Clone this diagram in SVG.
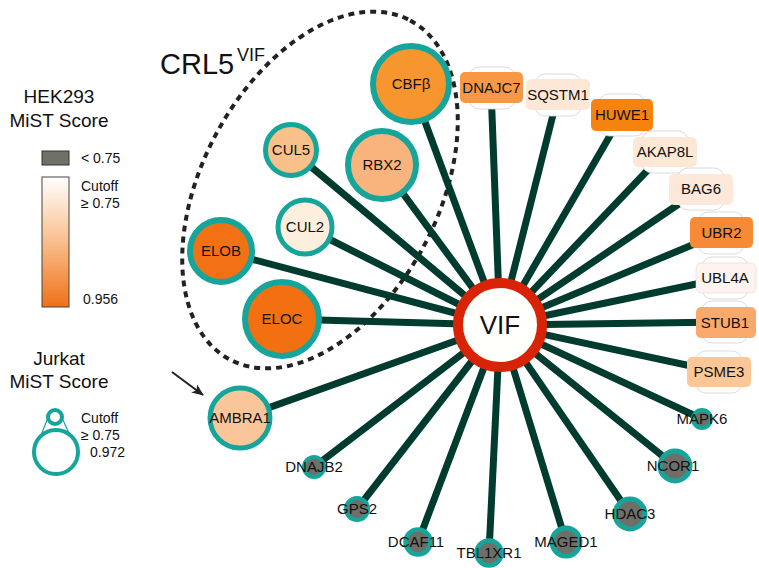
<svg xmlns="http://www.w3.org/2000/svg" width="759" height="568" viewBox="0 0 759 568">
<style>
text{font-family:"Liberation Sans",Arial,sans-serif;fill:#111}
.lbl{font-size:15px;text-anchor:middle}
.leg{font-size:14px}
.edge{stroke:#003B2F;stroke-width:7;fill:none}
.ring{stroke:#16A59B}
.gray{fill:#6F6F69;stroke:#16A59B}
.halo{fill:#fff;stroke:#d2d2d2;stroke-width:0.8}
</style>
<defs>
<linearGradient id="grad" x1="0" y1="0" x2="0" y2="1">
<stop offset="0" stop-color="#FFFFFF"/>
<stop offset="0.5" stop-color="#F9BE8C"/>
<stop offset="1" stop-color="#F07018"/>
</linearGradient>
<marker id="arr" viewBox="0 0 12 10" refX="11" refY="5" markerWidth="12" markerHeight="10" markerUnits="userSpaceOnUse" orient="auto">
<path d="M0,0 L12,5 L0,10 L3,5 Z" fill="#222"/>
</marker>
</defs>
<rect width="759" height="568" fill="#fff"/>

<g id="legend">
<text x="59" y="103" font-size="19" text-anchor="middle">HEK293</text>
<text x="59" y="127" font-size="19" text-anchor="middle">MiST Score</text>
<rect x="42" y="151" width="27" height="14" fill="#707068" stroke="#333" stroke-width="1"/>
<text x="81" y="163" class="leg">&lt; 0.75</text>
<rect x="42" y="177" width="27" height="130" fill="url(#grad)" stroke="#444" stroke-width="1"/>
<text x="81" y="191" class="leg">Cutoff</text>
<text x="81" y="208" class="leg">≥ 0.75</text>
<text x="83" y="304" class="leg">0.956</text>
<text x="59" y="365" font-size="19" text-anchor="middle">Jurkat</text>
<text x="59" y="388" font-size="19" text-anchor="middle">MiST Score</text>
<line x1="47.5" y1="419" x2="33" y2="455" stroke="#16A59B" stroke-width="1.2"/>
<line x1="62.5" y1="419" x2="79" y2="455" stroke="#16A59B" stroke-width="1.2"/>
<circle cx="55" cy="417" r="7" fill="#fff" stroke="#16A59B" stroke-width="4"/>
<circle cx="56" cy="452" r="22" fill="#fff" stroke="#16A59B" stroke-width="4"/>
<text x="81" y="423" class="leg">Cutoff</text>
<text x="81" y="440" class="leg">≥ 0.75</text>
<text x="90" y="457" class="leg">0.972</text>
</g>

<g id="crl5">
<ellipse cx="320" cy="190" rx="192" ry="118" transform="rotate(-62 320 190)" fill="none" stroke="#222" stroke-width="4" stroke-dasharray="6 5"/>
<text x="160" y="74" font-size="29">CRL5</text>
<text x="237" y="61" font-size="18">VIF</text>
</g>

<line id="arrow" x1="172" y1="372" x2="203" y2="395" stroke="#222" stroke-width="2" marker-end="url(#arr)"/>

<g id="edges">
<line class="edge" x1="500" y1="325" x2="411" y2="84"/>
<line class="edge" x1="500" y1="325" x2="382" y2="165"/>
<line class="edge" x1="500" y1="325" x2="291" y2="150"/>
<line class="edge" x1="500" y1="325" x2="305" y2="227"/>
<line class="edge" x1="500" y1="325" x2="221" y2="251"/>
<line class="edge" x1="500" y1="325" x2="282" y2="319"/>
<line class="edge" x1="500" y1="325" x2="240" y2="418"/>
<line class="edge" x1="500" y1="325" x2="314" y2="467"/>
<line class="edge" x1="500" y1="325" x2="357" y2="509"/>
<line class="edge" x1="500" y1="325" x2="418" y2="542"/>
<line class="edge" x1="500" y1="325" x2="489" y2="553"/>
<line class="edge" x1="500" y1="325" x2="566" y2="542"/>
<line class="edge" x1="500" y1="325" x2="630" y2="514"/>
<line class="edge" x1="500" y1="325" x2="675" y2="466"/>
<line class="edge" x1="500" y1="325" x2="702" y2="419"/>
<line class="edge" x1="500" y1="325" x2="719" y2="372"/>
<line class="edge" x1="500" y1="325" x2="725" y2="322"/>
<line class="edge" x1="500" y1="325" x2="725" y2="278"/>
<line class="edge" x1="500" y1="325" x2="721" y2="233"/>
<line class="edge" x1="500" y1="325" x2="701" y2="189"/>
<line class="edge" x1="500" y1="325" x2="665" y2="152"/>
<line class="edge" x1="500" y1="325" x2="622" y2="115"/>
<line class="edge" x1="500" y1="325" x2="558" y2="95"/>
<line class="edge" x1="500" y1="325" x2="491" y2="88"/>
</g>

<g id="n-CBFB"><circle cx="411" cy="84" r="38" fill="#F7952E" class="ring" stroke-width="6"/><text x="411" y="89" class="lbl">CBFβ</text></g>
<g id="n-RBX2"><circle cx="382" cy="165" r="34" fill="#F9B47D" class="ring" stroke-width="6"/><text x="382" y="170" class="lbl">RBX2</text></g>
<g id="n-CUL5"><circle cx="291" cy="150" r="25.5" fill="#FAC08A" class="ring" stroke-width="5"/><text x="291" y="155" class="lbl">CUL5</text></g>
<g id="n-CUL2"><circle cx="305" cy="227" r="27" fill="#FEEEDD" class="ring" stroke-width="5"/><text x="305" y="232" class="lbl">CUL2</text></g>
<g id="n-ELOB"><circle cx="221" cy="251" r="31" fill="#F37115" class="ring" stroke-width="6"/><text x="221" y="256" class="lbl">ELOB</text></g>
<g id="n-ELOC"><circle cx="282" cy="319" r="37" fill="#F37012" class="ring" stroke-width="6"/><text x="282" y="324" class="lbl">ELOC</text></g>
<g id="n-AMBRA1"><circle cx="240" cy="418" r="30" fill="#FBC59A" class="ring" stroke-width="5"/><text x="240" y="423" class="lbl">AMBRA1</text></g>

<g id="n-DNAJB2"><circle cx="314" cy="467" r="10" class="gray" stroke-width="4"/><text x="314" y="472" class="lbl">DNAJB2</text></g>
<g id="n-GPS2"><circle cx="357" cy="509" r="11" class="gray" stroke-width="4"/><text x="357" y="514" class="lbl">GPS2</text></g>
<g id="n-DCAF11"><circle cx="418" cy="542" r="12.5" class="gray" stroke-width="4.5"/><text x="416" y="547" class="lbl">DCAF11</text></g>
<g id="n-TBL1XR1"><circle cx="489" cy="553" r="12.5" class="gray" stroke-width="4.5"/><text x="489" y="558" class="lbl">TBL1XR1</text></g>
<g id="n-MAGED1"><circle cx="566" cy="542" r="14" class="gray" stroke-width="5"/><text x="566" y="547" class="lbl">MAGED1</text></g>
<g id="n-HDAC3"><circle cx="630" cy="514" r="15" class="gray" stroke-width="5"/><text x="630" y="519" class="lbl">HDAC3</text></g>
<g id="n-NCOR1"><circle cx="675" cy="466" r="15" class="gray" stroke-width="5"/><text x="673" y="471" class="lbl">NCOR1</text></g>
<g id="n-MAPK6"><circle cx="702" cy="419" r="9" class="gray" stroke-width="4"/><text x="702" y="424" class="lbl">MAPK6</text></g>

<g id="n-DNAJC7"><rect x="469" y="67" width="46" height="42" rx="10" class="halo"/><rect x="460" y="72" width="63" height="31" rx="5" fill="#F79847"/><text x="491.5" y="93" class="lbl">DNAJC7</text></g>
<g id="n-SQSTM1"><rect x="535" y="74" width="46" height="42" rx="10" class="halo"/><rect x="526" y="79" width="64" height="31" rx="5" fill="#FDE8D8"/><text x="558" y="100" class="lbl">SQSTM1</text></g>
<g id="n-HUWE1"><rect x="599" y="94" width="46" height="42" rx="10" class="halo"/><rect x="591" y="99" width="62" height="32" rx="5" fill="#F7830F"/><text x="622" y="120" class="lbl">HUWE1</text></g>
<g id="n-AKAP8L"><rect x="642" y="131" width="46" height="42" rx="10" class="halo"/><rect x="633" y="137" width="64" height="30" rx="5" fill="#FDE7D5"/><text x="665" y="157" class="lbl">AKAP8L</text></g>
<g id="n-BAG6"><rect x="678" y="168" width="46" height="42" rx="10" class="halo"/><rect x="669" y="174" width="64" height="31" rx="5" fill="#FDE8D9"/><text x="701" y="194" class="lbl">BAG6</text></g>
<g id="n-UBR2"><rect x="698" y="212" width="46" height="42" rx="10" class="halo"/><rect x="690" y="217" width="63" height="31" rx="5" fill="#F68A36"/><text x="721.5" y="238" class="lbl">UBR2</text></g>
<g id="n-UBL4A"><rect x="702" y="257" width="46" height="42" rx="10" class="halo"/><rect x="696" y="263" width="60" height="30" rx="5" fill="#FEF3EE" stroke="#e0d8d4" stroke-width="0.6"/><text x="725" y="283" class="lbl">UBL4A</text></g>
<g id="n-STUB1"><rect x="702" y="301" width="46" height="42" rx="10" class="halo"/><rect x="696" y="307" width="60" height="31" rx="5" fill="#F9A96B"/><text x="725" y="328" class="lbl">STUB1</text></g>
<g id="n-PSME3"><rect x="696" y="351" width="46" height="42" rx="10" class="halo"/><rect x="687" y="357" width="64" height="30" rx="5" fill="#FCC797"/><text x="719" y="377" class="lbl">PSME3</text></g>

<g id="n-VIF"><circle cx="500" cy="325" r="42" fill="#FFFFFB" stroke="#D92307" stroke-width="10"/><text x="500" y="334" font-size="26" text-anchor="middle">VIF</text></g>
</svg>
